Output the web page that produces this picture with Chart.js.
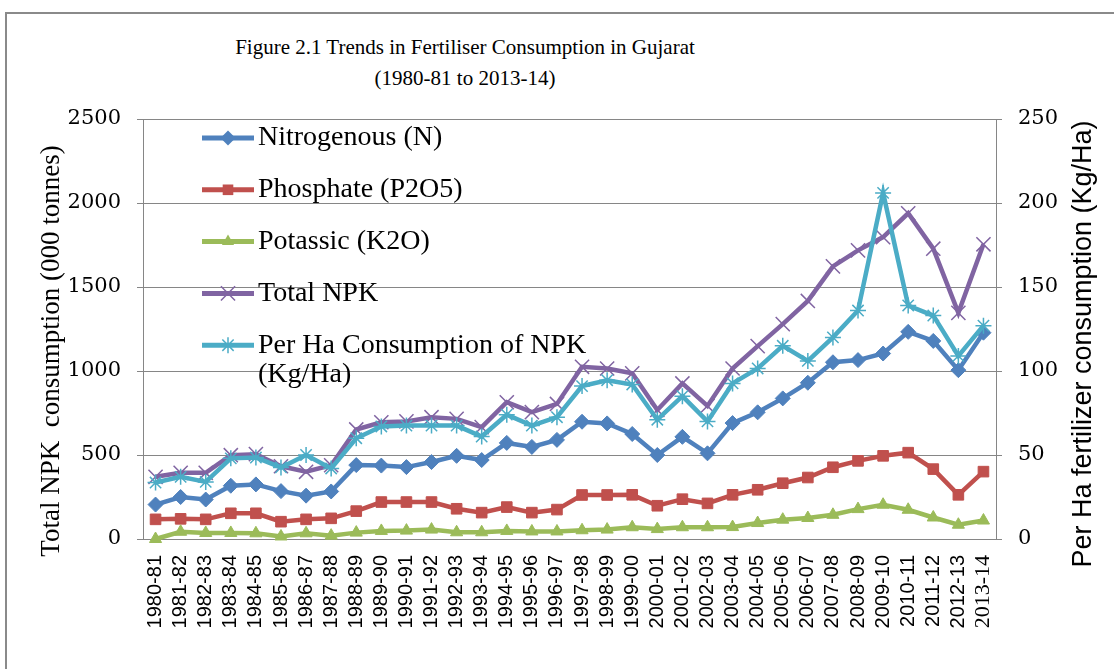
<!DOCTYPE html>
<html lang="en">
<head>
<meta charset="utf-8">
<title>Trends in Fertiliser Consumption in Gujarat</title>
<script src="https://cdn.jsdelivr.net/npm/chart.js@4.4.0/dist/chart.umd.min.js"></script>
<style>
  html, body { margin: 0; padding: 0; background: #fff; overflow: hidden; }
  #wrap { position: relative; width: 1114px; height: 669px; }
  #frame { position: absolute; left: 5px; top: 12px; width: 1200px; height: 800px; border: 2px solid #8a8a8a; }
  #title { position: absolute; left: 165px; width: 600px; top: 32px; text-align: center;
           font: 21px "Liberation Serif", serif; line-height: 31px; color: #000; }
  canvas { position: absolute; left: 0; top: 0; }
</style>
</head>
<body>
<div id="wrap">
  <div id="frame"></div>
  <div id="title">Figure 2.1 Trends in Fertiliser Consumption in Gujarat<br>(1980-81 to 2013-14)</div>
  <canvas id="chart" width="1114" height="669"></canvas>
</div>
<script>
const years = ['1980-81', '1981-82', '1982-83', '1983-84', '1984-85', '1985-86', '1986-87', '1987-88',
  '1988-89', '1989-90', '1990-91', '1991-92', '1992-93', '1993-94', '1994-95', '1995-96', '1996-97',
  '1997-98', '1998-99', '1999-00', '2000-01', '2001-02', '2002-03', '2003-04', '2004-05', '2005-06',
  '2006-07', '2007-08', '2008-09', '2009-10', '2010-11', '2011-12', '2012-13', '2013-14'];

// '000 tonnes
const nitrogen = [205, 250, 235, 317, 325, 285, 258, 283, 440, 437, 428, 458, 495, 470, 572, 548, 590,
  698, 688, 625, 500, 608, 510, 690, 754, 837, 930, 1052, 1065, 1104, 1233, 1179, 1005, 1228];
const phosphate = [117, 120, 117, 153, 153, 103, 117, 123, 166, 220, 220, 220, 180, 157, 190, 157, 175,
  262, 262, 263, 198, 237, 212, 263, 293, 332, 366, 427, 465, 495, 514, 416, 263, 401];
const potassic = [0, 43, 36, 36, 34, 15, 34, 20, 38, 48, 50, 56, 40, 40, 48, 45, 45,
  52, 56, 70, 59, 70, 70, 71, 95, 115, 125, 144, 178, 204, 174, 128, 85, 110];
const totalNPK = [370, 394, 394, 499, 505, 433, 400, 439, 652, 695, 700, 725, 715, 666, 814, 755, 804,
  1025, 1015, 986, 768, 926, 792, 1015, 1148, 1279, 1417, 1623, 1718, 1797, 1939, 1728, 1346, 1754];
// kg/ha, right axis
const perHa = [33.6, 37, 34, 48, 48.5, 42.6, 50, 42, 60, 67, 67.5, 67.5, 67.5, 61, 74, 67.5, 72.5,
  91, 94.5, 92, 71, 85, 70, 92.6, 101.5, 115, 106, 120, 136, 206, 139, 133, 109, 127];

const leftTicks = [0, 500, 1000, 1500, 2000, 2500];
const rightTicks = [0, 50, 100, 150, 200, 250];

const gridGrey = '#868686';

function series(label, data, color, pointStyle, radius, order, axis, pbw) {
  return {
    label: label, data: data, yAxisID: axis || 'y', order: order,
    borderColor: color, backgroundColor: color,
    pointBackgroundColor: color, pointBorderColor: color,
    borderWidth: 4.5, pointStyle: pointStyle, pointRadius: radius,
    pointBorderWidth: pbw || 1, tension: 0, clip: false
  };
}

// small marker for the legend rows
function legendMarker(c, style, x, y, r) {
  c.beginPath();
  if (style === 'rectRot') {
    c.moveTo(x, y - r); c.lineTo(x + r, y); c.lineTo(x, y + r); c.lineTo(x - r, y); c.closePath(); c.fill();
  } else if (style === 'rect') {
    const h = r * Math.SQRT1_2;
    c.rect(x - h, y - h, 2 * h, 2 * h); c.fill();
  } else if (style === 'triangle') {
    c.moveTo(x, y - r); c.lineTo(x + r * 0.87, y + r * 0.5); c.lineTo(x - r * 0.87, y + r * 0.5); c.closePath(); c.fill();
  } else {
    const d = r * Math.SQRT1_2;
    c.moveTo(x - d, y - d); c.lineTo(x + d, y + d);
    c.moveTo(x - d, y + d); c.lineTo(x + d, y - d);
    if (style === 'star') {
      c.moveTo(x - r, y); c.lineTo(x + r, y);
      c.moveTo(x, y - r); c.lineTo(x, y + r);
    }
    c.lineWidth = 1.5;
    c.stroke();
  }
}

// legend and axis titles drawn inside the chart, like the original
const overlay = {
  id: 'overlay',
  afterDraw(chart) {
    const ctx = chart.ctx;
    const area = chart.chartArea;
    ctx.save();
    ctx.textBaseline = 'middle';
    chart.data.datasets.forEach((ds, i) => {
      const y = area.top + 19 + i * 51.8;
      const x0 = area.left + 59;
      ctx.strokeStyle = ds.borderColor;
      ctx.lineWidth = 5;
      ctx.beginPath();
      ctx.moveTo(x0, y);
      ctx.lineTo(x0 + 52, y);
      ctx.stroke();
      ctx.fillStyle = ds.borderColor;
      legendMarker(ctx, ds.pointStyle, x0 + 26, y, ds.pointRadius);
      ctx.fillStyle = '#000';
      ctx.font = '28px "Liberation Serif", serif';
      ctx.textAlign = 'left';
      const lines = ds.legendText || [ds.label];
      lines.forEach((t, k) => ctx.fillText(t, x0 + 56, y + k * 29));
    });

    ctx.fillStyle = '#000';
    ctx.textAlign = 'center';
    ctx.save();
    ctx.translate(52, 351);
    ctx.rotate(-Math.PI / 2);
    ctx.font = '27px "Liberation Serif", serif';
    ctx.fillText('Total NPK  consumption (000 tonnes)', 0, 0);
    ctx.restore();
    ctx.save();
    ctx.translate(1084, 344);
    ctx.rotate(-Math.PI / 2);
    ctx.font = '27px "Liberation Sans", sans-serif';
    ctx.fillText('Per Ha fertilizer consumption (Kg/Ha)', 0, 0);
    ctx.restore();
    ctx.restore();
  }
};

const ctx = document.getElementById('chart').getContext('2d');
const perHaSeries = series('Per Ha Consumption of NPK (Kg/Ha)', perHa, '#4BACC6', 'star', 8, 1, 'y1', 1.5);
perHaSeries.legendText = ['Per Ha Consumption of NPK', '(Kg/Ha)'];

const chart = new Chart(ctx, {
  type: 'line',
  data: {
    labels: years,
    datasets: [
      series('Nitrogenous (N)', nitrogen, '#4F81BD', 'rectRot', 7.5, 5),
      series('Phosphate (P2O5)', phosphate, '#C0504D', 'rect', 7.5, 4),
      series('Potassic (K2O)', potassic, '#9BBB59', 'triangle', 7, 3),
      series('Total NPK', totalNPK, '#8064A2', 'crossRot', 10, 2, 'y', 1.5),
      perHaSeries
    ]
  },
  options: {
    responsive: false,
    animation: false,
    devicePixelRatio: 1,
    layout: { padding: { top: 119, left: 0, right: 0, bottom: 0 } },
    plugins: {
      legend: { display: false },
      title: { display: false },
      tooltip: { enabled: false }
    },
    scales: {
      x: {
        offset: true,
        grid: { display: false },
        border: { display: true, color: gridGrey, width: 1 },
        ticks: {
          autoSkip: false, maxRotation: 90, minRotation: 90, padding: 8, color: '#000',
          font: (c) => c.index === years.length - 1
            ? { family: '"Liberation Serif", serif', size: 22 }
            : { family: '"Liberation Sans", sans-serif', size: 20 }
        },
        afterFit: (s) => { s.height = 130; }
      },
      y: {
        position: 'left', min: 0, max: 2500,
        afterBuildTicks: (s) => { s.ticks = leftTicks.map(v => ({ value: v })); },
        grid: { color: gridGrey, lineWidth: 1, tickLength: 6 },
        border: { display: true, color: gridGrey, width: 1 },
        ticks: { color: '#000', padding: 16, font: { family: '"DejaVu Serif", serif', size: 21 },
                 callback: (v) => String(v) },
        afterFit: (s) => { s.width = 143; }
      },
      y1: {
        position: 'right', min: 0, max: 250,
        afterBuildTicks: (s) => { s.ticks = rightTicks.map(v => ({ value: v })); },
        grid: { drawOnChartArea: false, color: gridGrey, lineWidth: 1, tickLength: 6 },
        border: { display: true, color: gridGrey, width: 1 },
        ticks: { color: '#000', padding: 16, font: { family: '"DejaVu Serif", serif', size: 21 },
                 callback: (v) => String(v) },
        afterFit: (s) => { s.width = 118; }
      }
    }
  },
  plugins: [overlay]
});
</script>
</body>
</html>
